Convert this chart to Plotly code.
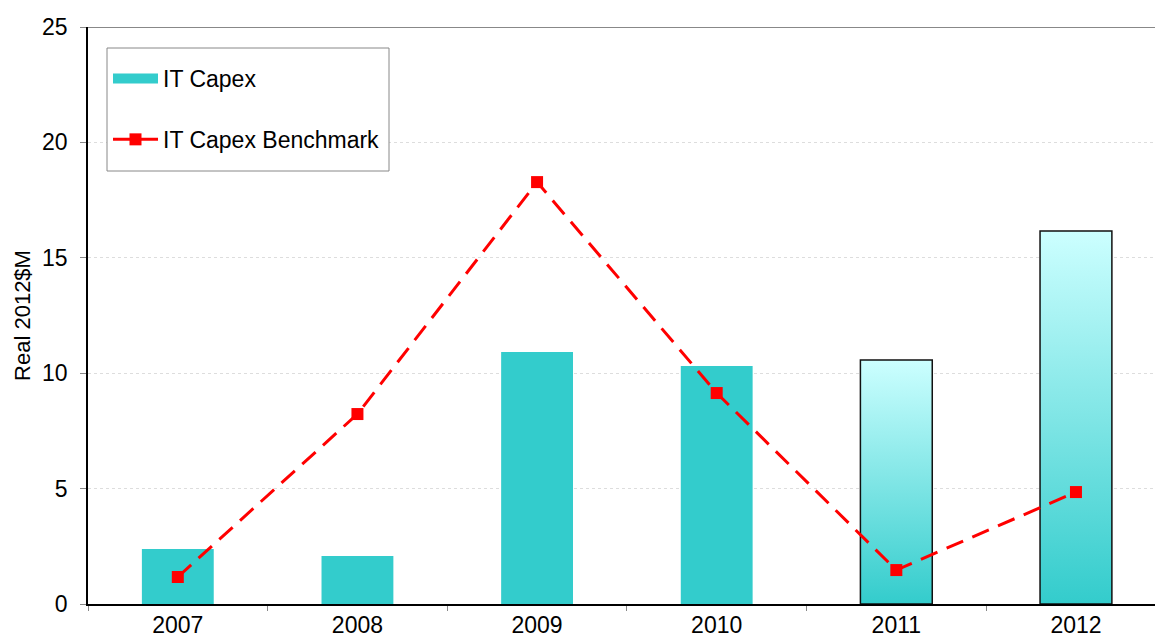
import plotly.graph_objects as go

years = ["2007", "2008", "2009", "2010", "2011", "2012"]
capex = [2.38, 2.08, 10.92, 10.31, 10.57, 16.16]
benchmark = [1.17, 8.23, 18.28, 9.14, 1.47, 4.85]
gradient_years = ["2011", "2012"]
y_ticks = [0, 5, 10, 15, 20, 25]

TEAL = "#33cccc"
LIGHT = "#ccffff"
BAR_W = 0.4
xs = list(range(len(years)))

fig = go.Figure()

bar_colors = [("rgba(0,0,0,0)" if y in gradient_years else TEAL) for y in years]
fig.add_trace(go.Bar(
    x=xs, y=capex, width=BAR_W, marker=dict(color=bar_colors, line=dict(width=0)),
    showlegend=False, name="IT Capex", hoverinfo="x+y"))

for i, (yr, v) in enumerate(zip(years, capex)):
    if yr in gradient_years:
        h = BAR_W / 2
        fig.add_trace(go.Scatter(
            x=[i - h, i + h, i + h, i - h, i - h], y=[0, 0, v, v, 0],
            mode="lines", fill="toself",
            fillgradient=dict(type="vertical", colorscale=[[0, TEAL], [1, LIGHT]]),
            line=dict(color="#111111", width=1.5),
            showlegend=False, hoverinfo="skip"))

fig.add_trace(go.Scatter(
    x=[None], y=[None], mode="lines", name="IT Capex",
    line=dict(color=TEAL, width=12), legendgroup="a"))

fig.add_trace(go.Scatter(
    x=xs, y=benchmark, mode="lines+markers", name="IT Capex Benchmark",
    line=dict(color="#ff0000", width=3, dash="18px,10px"),
    marker=dict(symbol="square", size=12, color="#ff0000"),
    legendgroup="b"))

PW, PH = 1155 - 88, 604 - 27

def px_x(p):
    return (p - 88) / PW

def px_y(p):
    return (604 - p) / PH

fig.update_layout(
    width=1155, height=639,
    margin=dict(l=88, r=0, t=27, b=35),
    plot_bgcolor="white", paper_bgcolor="white",
    font=dict(family="Liberation Sans, Arial, sans-serif", size=23, color="black"),
    legend=dict(
        x=px_x(108), y=px_y(57), xanchor="left", yanchor="top",
        borderwidth=0, bgcolor="rgba(0,0,0,0)",
        font=dict(size=23), tracegroupgap=28, traceorder="grouped",
        itemwidth=45),
    showlegend=True,
)

fig.update_xaxes(
    range=[-0.5, 5.44], tickvals=xs, ticktext=years, ticks="",
    showgrid=False, zeroline=False, automargin=False,
    showline=True, linecolor="black", linewidth=1.5,
    tickfont=dict(size=23), ticklabelstandoff=0,
    minor=dict(tickvals=[i - 0.5 for i in range(len(years) + 1)], ticks="outside",
               ticklen=5, tickcolor="#888888", tickwidth=1, showgrid=False),
)

fig.update_yaxes(
    range=[0, 25], tickvals=y_ticks, ticks="outside", ticklen=6,
    tickcolor="#888888", showline=True, linecolor="black", linewidth=1.5,
    showgrid=True, gridcolor="#dddddd", griddash="dot", gridwidth=1,
    zeroline=False, tickfont=dict(size=23), ticklabelstandoff=8, automargin=False,
    title=dict(text="Real 2012$M", font=dict(size=22), standoff=5),
)

fig.add_shape(type="line", xref="paper", yref="y", x0=0, x1=1, y0=25, y1=25,
              line=dict(color="#888888", width=2))

fig.add_shape(type="rect", xref="paper", yref="paper",
              x0=px_x(107), x1=px_x(389), y0=px_y(171), y1=px_y(48),
              line=dict(color="#888888", width=1), fillcolor="white", layer="above")

fig.write_html("out.html")
